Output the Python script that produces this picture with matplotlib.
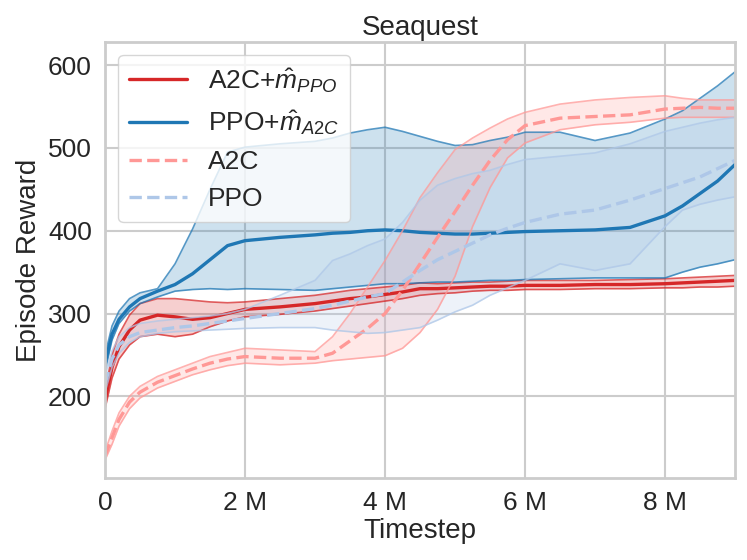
import matplotlib
matplotlib.use("Agg")
import matplotlib.pyplot as plt
import numpy as np
import seaborn as sns
from matplotlib.ticker import EngFormatter

sns.set_style("whitegrid")
plt.rcParams['font.family'] = ['Liberation Sans', 'DejaVu Sans']
plt.rcParams['mathtext.fontset'] = 'custom'
plt.rcParams['mathtext.rm'] = 'Liberation Sans'
plt.rcParams['mathtext.it'] = 'Liberation Sans:italic'

# timesteps in millions
steps = [0, 0.1, 0.2, 0.35, 0.5, 0.75, 1.0, 1.25, 1.5, 1.75, 2.0, 2.5, 3.0, 3.25, 3.5,
         3.75, 4.0, 4.25, 4.5, 4.75, 5.0, 5.25, 5.5, 5.75, 6.0, 6.5, 7.0, 7.5, 8.0,
         8.25, 8.5, 8.75, 9.0]

# A2C + m_PPO
a2cm_mean = [195, 235, 260, 280, 292, 298, 296, 293, 295, 300, 305, 308, 312, 315, 318,
             320, 323, 326, 330, 330, 331, 332, 333, 333, 334, 334, 335, 335, 336,
             337, 338, 339, 340]
a2cm_hi = [205, 250, 275, 298, 312, 318, 318, 316, 314, 313, 314, 318, 322, 325, 328,
           330, 332, 334, 337, 336, 337, 338, 338, 339, 340, 340, 340, 341, 342,
           343, 344, 345, 346]
a2cm_lo = [185, 222, 245, 262, 272, 275, 272, 275, 284, 291, 296, 299, 303, 306, 309,
           312, 315, 318, 322, 324, 325, 327, 328, 328, 329, 329, 330, 330, 331,
           331, 332, 332, 333]

# PPO + m_A2C
ppom_mean = [240, 275, 293, 308, 318, 327, 335, 348, 365, 382, 388, 392, 395, 397, 398,
             400, 401, 400, 398, 397, 396, 396, 397, 398, 399, 400, 401, 404, 418,
             430, 445, 460, 480]
ppom_hi = [250, 285, 303, 318, 325, 330, 360, 402, 450, 495, 501, 505, 508, 512, 518,
           522, 525, 520, 514, 508, 503, 504, 509, 513, 519, 519, 509, 518, 535,
           545, 560, 575, 592]
ppom_lo = [230, 268, 288, 303, 312, 320, 327, 329, 330, 329, 330, 329, 328, 330, 332,
           334, 336, 336, 337, 338, 338, 339, 340, 340, 341, 342, 343, 343, 343,
           350, 356, 360, 365]

# A2C
a2c_mean = [128, 150, 172, 193, 205, 217, 225, 233, 240, 245, 248, 246, 246, 252, 267,
            282, 300, 328, 360, 392, 423, 455, 485, 510, 527, 536, 538, 540, 547,
            548, 549, 548, 548]
a2c_hi = [133, 158, 180, 200, 212, 224, 232, 240, 248, 253, 258, 256, 254, 272, 300,
          332, 364, 400, 440, 470, 498, 512, 524, 535, 543, 553, 558, 561, 563,
          560, 558, 558, 558]
a2c_lo = [123, 142, 164, 185, 198, 210, 218, 226, 232, 237, 240, 238, 240, 243, 245,
          247, 249, 258, 277, 305, 345, 405, 452, 488, 506, 522, 528, 531, 536,
          537, 537, 537, 537]

# PPO
ppo_mean = [215, 245, 262, 272, 277, 280, 283, 285, 288, 291, 294, 300, 306, 310, 315,
            320, 324, 338, 352, 365, 375, 385, 395, 403, 410, 420, 425, 437, 451,
            458, 465, 475, 485]
ppo_hi = [225, 255, 272, 283, 288, 291, 293, 295, 297, 300, 305, 322, 340, 364, 372,
          382, 390, 410, 437, 455, 463, 469, 473, 480, 486, 490, 494, 505, 520,
          525, 530, 534, 537]
ppo_lo = [205, 235, 252, 265, 272, 276, 278, 279, 280, 281, 282, 283, 283, 280, 278,
          276, 277, 280, 283, 292, 302, 310, 322, 331, 340, 360, 352, 360, 405,
          425, 432, 437, 441]

labels = [r'A2C+$\hat{m}_{PPO}$', r'PPO+$\hat{m}_{A2C}$', 'A2C', 'PPO']
colors = ['#d62728', '#1f77b4', '#ff9896', '#aec7e8']
styles = ['-', '-', '--', '--']
series = [(a2cm_mean, a2cm_lo, a2cm_hi), (ppom_mean, ppom_lo, ppom_hi),
          (a2c_mean, a2c_lo, a2c_hi), (ppo_mean, ppo_lo, ppo_hi)]

x = np.array(steps) * 1e6

fig = plt.figure(figsize=(7.47, 5.6), dpi=100)
ax = fig.add_axes([0.1406, 0.146, 0.8434, 0.779])

for (m, lo, hi), c, ls, lab in zip(series, colors, styles, labels):
    ax.fill_between(x, lo, hi, color=c, alpha=0.22, lw=0)
    ax.plot(x, lo, color=c, lw=1.2, alpha=0.75)
    ax.plot(x, hi, color=c, lw=1.2, alpha=0.75)
    ax.plot(x, m, color=c, ls=ls, lw=2.4, label=lab)

ax.set_xlim(0, 9.0e6)
ax.set_ylim(101, 628)
ax.xaxis.set_major_formatter(EngFormatter())
ax.set_xticks([0, 2e6, 4e6, 6e6, 8e6])
ax.set_yticks([200, 300, 400, 500, 600])
ax.tick_params(labelsize=19, pad=6)
ax.grid(True, color='#cccccc', lw=1.5)
ax.set_xlabel('Timestep', fontsize=20, labelpad=2)
ax.set_ylabel('Episode Reward', fontsize=20, labelpad=4)
ax.set_title('Seaquest', fontsize=20, pad=5)
for s in ax.spines.values():
    s.set_color('#cccccc')
    s.set_linewidth(2)

ax.legend(loc='upper left', fontsize=19, framealpha=0.8, handlelength=2.2,
          borderaxespad=0.5)

fig.savefig('out.png', dpi=100)
